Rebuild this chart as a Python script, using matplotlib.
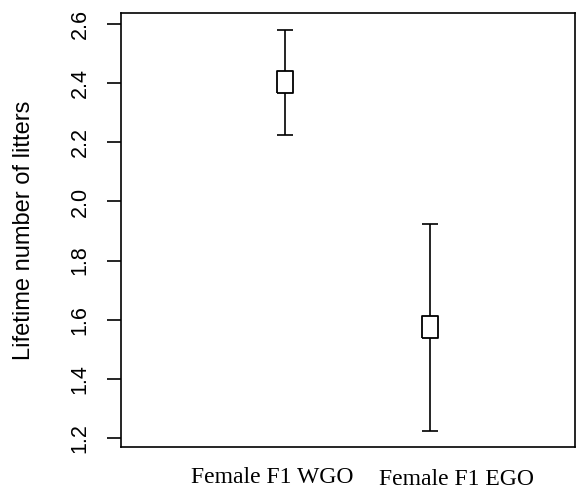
import numpy as np
import matplotlib
matplotlib.use("Agg")
from matplotlib import pyplot as plt

# lifetime litters per group
groups = ["Female F1 WGO", "Female F1 EGO"]
means = [2.405, 1.577]
lower = [2.224, 1.225]
upper = [2.579, 1.923]
yticks = [1.2, 1.4, 1.6, 1.8, 2.0, 2.2, 2.4, 2.6]

fig = plt.figure(figsize=(5.82, 4.95), dpi=100)
ax = fig.add_axes([121/582, 1-447/495, 454/582, 434/495])

x = np.array([1, 2])
m = np.array(means)
yerr = [m - np.array(lower), np.array(upper) - m]
ax.errorbar(x, m, yerr=yerr, fmt='none', ecolor='black', elinewidth=1.2,
            capsize=6, capthick=1.2, zorder=2)
# tall open box marker like the original
box = [(-0.72, -1), (0.72, -1), (0.72, 1), (-0.72, 1), (-0.72, -1)]
ax.plot(x, m, linestyle='none', marker=box, markersize=16, markerfacecolor='white',
        markeredgecolor='black', markeredgewidth=1.3, zorder=3)

ax.set_xlim(-0.131, 3.0)
ax.set_ylim(1.170, 2.637)
ax.set_xticks([])
ax.set_yticks(yticks)
ax.set_yticklabels([f"{t:.1f}" for t in yticks], rotation=90, va='center',
                   fontsize=15.5, family='Liberation Sans')
ax.tick_params(axis='y', length=10, width=1.2, pad=12)
for s in ax.spines.values():
    s.set_linewidth(1.2)

ax.set_ylabel("Lifetime number of litters", fontsize=17, family='Liberation Sans')
ax.yaxis.set_label_coords(-0.190, 0.5)

trans = ax.transAxes
ax.text(0.3337, -0.070, groups[0], transform=trans, ha='center', va='center',
        fontsize=17, family='Liberation Serif')
ax.text(0.738, -0.075, groups[1], transform=trans, ha='center', va='center',
        fontsize=17, family='Liberation Serif')

fig.savefig("out.png", dpi=100)
